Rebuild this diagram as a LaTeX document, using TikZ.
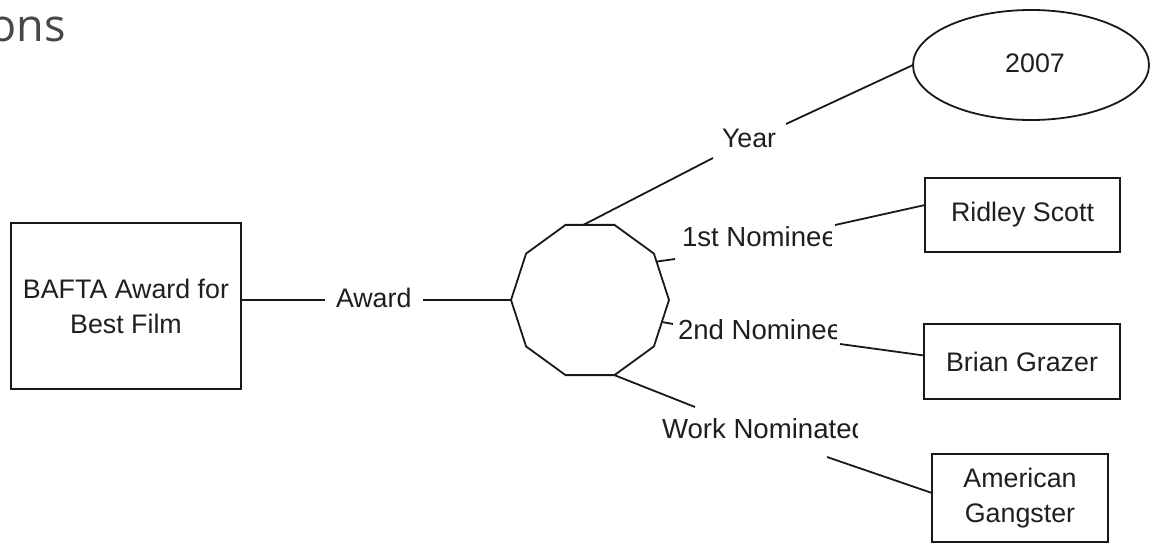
\documentclass[tikz,border=0pt]{standalone}
\usepackage{fontspec}
\setmainfont{Liberation Sans}
\newfontfamily\titlefont{Open Sans}
\usetikzlibrary{shapes.geometric,calc}
\begin{document}
\begin{tikzpicture}[x=1pt,y=-1pt,
  every node/.style={font=\fontsize{26.8}{35}\selectfont, text=black!88, outer sep=0pt},
  conn/.style={draw=black!90, line width=1.8pt},
  box/.style={draw=black!90, line width=1.8pt, rectangle, inner sep=0pt, align=center},
  lbl/.style={inner sep=0pt, anchor=west},
  cutlbl/.style={lbl, font=\fontsize{27.6}{35}\selectfont},
]
\useasboundingbox (0,0) rectangle (1153,546);

% title fragment (cut off at the left edge)
\node[font=\titlefont\fontsize{45}{50}\selectfont, text=black!72, anchor=base east, inner sep=0pt] (title) at (66,41) {ons};

% nodes
\node[box, minimum width=230pt, minimum height=166pt] (bafta) at (126,306) {BAFTA Award for\\Best Film};
\node[draw=black!90, line width=1.8pt, regular polygon, regular polygon sides=10, minimum size=158pt, inner sep=0pt] (hub) at (590,300) {};
\node[draw=black!90, line width=1.8pt, ellipse, minimum width=236pt, minimum height=110pt, inner sep=0pt] (yr) at (1031,65) {\raisebox{3pt}{\hspace*{8pt}2007}};
\node[box, minimum width=195pt, minimum height=74pt] (ridley) at (1022.5,215) {Ridley Scott};
\node[box, minimum width=196pt, minimum height=75pt] (brian) at (1022,361.5) {Brian Grazer};
\node[box, minimum width=176pt, minimum height=88pt] (ag) at (1020,498) {American\\Gangster};

% labels
\node[lbl] (award) at (336,298) {Award};
\node[lbl] (year) at (722,138) {Year};
\begin{scope}
  \clip (600,200) rectangle (831,270);
  \node[cutlbl] (nom1) at (682,237) {1st Nominee};
\end{scope}
\begin{scope}
  \clip (600,300) rectangle (836,360);
  \node[cutlbl] (nom2) at (678,330) {2nd Nominee};
\end{scope}
\begin{scope}
  \clip (600,400) rectangle (857,460);
  \node[cutlbl] (work) at (662,429) {Work Nominated};
\end{scope}

% connector ends
\coordinate (a1) at (325,300);
\coordinate (a2) at (423,300);
\coordinate (y1) at (713,158);
\coordinate (y2) at (786,124);
\coordinate (n1a) at (675,259);
\coordinate (n1b) at (835,225);
\coordinate (n2a) at (673,324);
\coordinate (n2b) at (840,344);
\coordinate (w1) at (695,407);
\coordinate (w2) at (827,457);

% connectors
\draw[conn] (bafta.east |- hub) -- (a1);
\draw[conn] (a2) -- (hub.west);
\draw[conn] (hub.95) -- (y1);
\draw[conn] (y2) -- (yr.west);
\draw[conn] (hub.30) -- (n1a);
\draw[conn] (n1b) -- ($(ridley.west)+(0,-10)$);
\draw[conn] (hub.-17) -- (n2a);
\draw[conn] (n2b) -- ($(brian.west)+(0,-6)$);
\draw[conn] (hub.-72) -- (w1);
\draw[conn] (w2) -- ($(ag.west)+(0,-5)$);
\end{tikzpicture}
\end{document}
